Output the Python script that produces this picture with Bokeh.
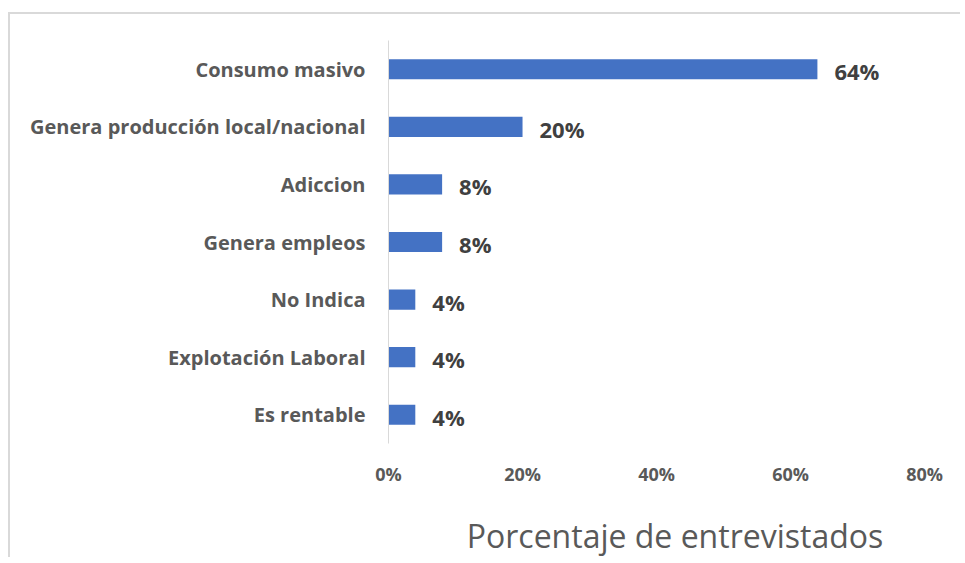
from bokeh.plotting import figure
from bokeh.models import (FactorRange, Range1d, FixedTicker, PrintfTickFormatter,
                          ColumnDataSource)
from bokeh.core.properties import value
from bokeh.embed import file_html
from bokeh.resources import INLINE

categories = ["Consumo masivo", "Genera producción local/nacional", "Adiccion",
              "Genera empleos", "No Indica", "Explotación Laboral", "Es rentable"]
values = [64, 20, 8, 8, 4, 4, 4]
x_ticks = [0, 20, 40, 60, 80]
axis_title = "Porcentaje de entrevistados"

labels = [f"{v}%" for v in values]
src = ColumnDataSource(dict(cat=categories, val=values, lab=labels))

p = figure(width=952, height=545, output_backend="svg", toolbar_location=None,
           y_range=FactorRange(factors=list(reversed(categories)), range_padding=0),
           x_range=Range1d(0, 85.5),
           min_border_left=378, min_border_right=1, min_border_top=26,
           min_border_bottom=116)
p.styles = {"margin-left": "8px", "margin-top": "12px",
            "border-top": "2px solid #d9d9d9", "border-left": "2px solid #d9d9d9"}

p.hbar(y="cat", right="val", left=0, height=0.35, source=src,
       fill_color="#4472C4", line_color=None)
p.text(x="val", y="cat", text="lab", source=src, x_offset=17, y_offset=2,
       text_align="left", text_baseline="middle",
       text_font=value("Open Sans"), text_font_style="bold",
       text_font_size="22px", text_color="#404040")

p.outline_line_color = None
p.xgrid.grid_line_color = None
p.ygrid.grid_line_color = None

xa = p.xaxis[0]
xa.ticker = FixedTicker(ticks=x_ticks)
xa.formatter = PrintfTickFormatter(format="%d%%")
xa.axis_line_color = None
xa.major_tick_line_color = None
xa.minor_tick_line_color = None
xa.major_label_standoff = 12
xa.major_label_text_font = "Open Sans"
xa.major_label_text_font_style = "bold"
xa.major_label_text_font_size = "18px"
xa.major_label_text_color = "#595959"
xa.axis_label = axis_title
xa.axis_label_standoff = 25
xa.axis_label_text_font = "Open Sans"
xa.axis_label_text_font_style = "normal"
xa.axis_label_text_font_size = "32px"
xa.axis_label_text_color = "#595959"

ya = p.yaxis[0]
ya.axis_line_color = "#d9d9d9"
ya.axis_line_width = 1
ya.major_tick_line_color = None
ya.minor_tick_line_color = None
ya.major_label_standoff = 17
ya.major_label_text_font = "Open Sans"
ya.major_label_text_font_style = "bold"
ya.major_label_text_font_size = "20px"
ya.major_label_text_color = "#595959"

open("out.html", "w").write(file_html(p, INLINE))
